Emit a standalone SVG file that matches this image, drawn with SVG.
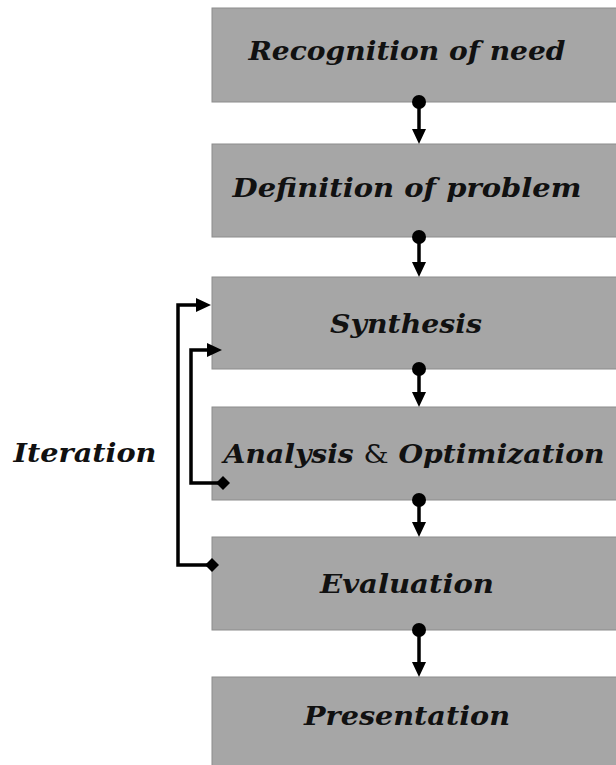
<svg xmlns="http://www.w3.org/2000/svg" width="616" height="765" viewBox="0 0 616 765">
<defs>
<style>
.box{fill:#a6a6a6;stroke:#8c8c8c;stroke-width:1}
.t{font-family:"DejaVu Serif","Liberation Serif",serif;font-weight:bold;font-style:italic;font-size:26px;fill:#111;text-anchor:middle}
.amp{font-weight:normal;font-style:normal}
.c{stroke:#000;stroke-width:3.5;fill:none}
.d{fill:#000}
</style>
</defs>
<rect width="616" height="765" fill="#fff"/>
<g id="n1"><rect class="box" x="212" y="8" width="410" height="94"/><text class="t" x="407" y="60" textLength="317" lengthAdjust="spacingAndGlyphs">Recognition of need</text></g>
<g id="n2"><rect class="box" x="212" y="144" width="410" height="93"/><text class="t" x="407" y="197" textLength="349" lengthAdjust="spacingAndGlyphs">Definition of problem</text></g>
<g id="n3"><rect class="box" x="212" y="277" width="410" height="92"/><text class="t" x="406" y="333" textLength="152" lengthAdjust="spacingAndGlyphs">Synthesis</text></g>
<g id="n4"><rect class="box" x="212" y="407" width="410" height="93"/><text class="t" x="414" y="463" textLength="381" lengthAdjust="spacingAndGlyphs">Analysis <tspan class="amp">&amp;</tspan> Optimization</text></g>
<g id="n5"><rect class="box" x="212" y="537" width="410" height="93"/><text class="t" x="407" y="593" textLength="174" lengthAdjust="spacingAndGlyphs">Evaluation</text></g>
<g id="n6"><rect class="box" x="212" y="677" width="410" height="95"/><text class="t" x="407" y="725" textLength="206" lengthAdjust="spacingAndGlyphs">Presentation</text></g>
<g id="lbl"><text class="t" x="85" y="462" textLength="143" lengthAdjust="spacingAndGlyphs">Iteration</text></g>
<g id="connectors">
<circle class="d" cx="419" cy="102" r="7"/><line class="c" x1="419" y1="102" x2="419" y2="130"/><path class="d" d="M412,129 L426,129 L419,144 Z"/>
<circle class="d" cx="419" cy="237" r="7"/><line class="c" x1="419" y1="237" x2="419" y2="263"/><path class="d" d="M412,262 L426,262 L419,277 Z"/>
<circle class="d" cx="419" cy="369" r="7"/><line class="c" x1="419" y1="369" x2="419" y2="393"/><path class="d" d="M412,392 L426,392 L419,407 Z"/>
<circle class="d" cx="419" cy="500" r="7"/><line class="c" x1="419" y1="500" x2="419" y2="523"/><path class="d" d="M412,522 L426,522 L419,537 Z"/>
<circle class="d" cx="419" cy="630" r="7"/><line class="c" x1="419" y1="630" x2="419" y2="663"/><path class="d" d="M412,662 L426,662 L419,677 Z"/>
<polyline class="c" points="212,565 178,565 178,305 198,305"/><path class="d" d="M196,298 L211,305 L196,312 Z"/>
<path class="d" d="M205,565 L212,558 L219,565 L212,572 Z"/>
<polyline class="c" points="223,483 191,483 191,350 209,350"/><path class="d" d="M207,343 L222,350 L207,357 Z"/>
<path class="d" d="M216,483 L223,476 L230,483 L223,490 Z"/>
</g>
</svg>
